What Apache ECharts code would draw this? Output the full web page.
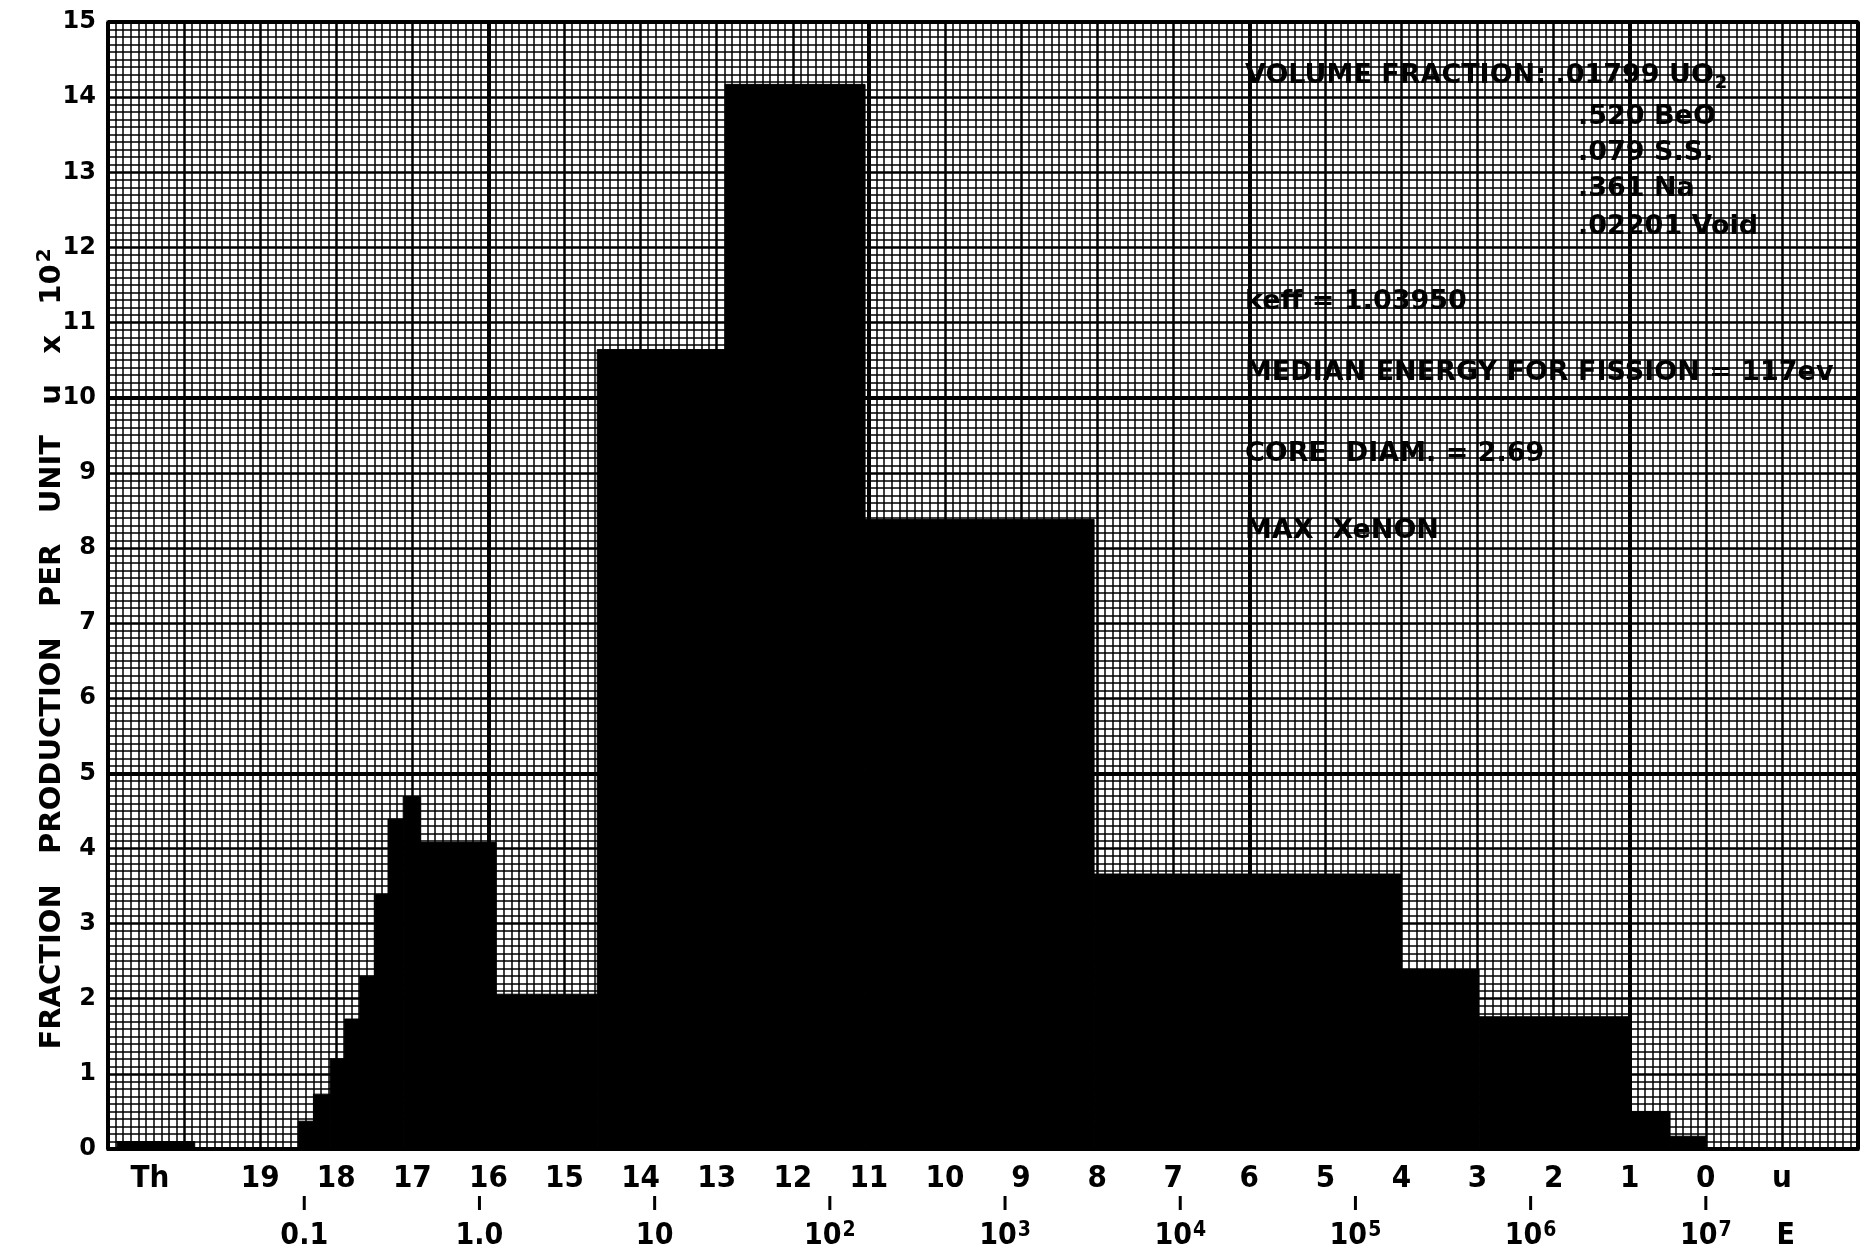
<!DOCTYPE html>
<html>
<head>
<meta charset="utf-8">
<script src="https://cdn.jsdelivr.net/npm/echarts@6/dist/echarts.min.js"></script>
<style>
html,body{margin:0;padding:0;background:#fff;}
#chart{width:1868px;height:1252px;}
</style>
</head>
<body>
<div id="chart"></div>
<script>
// ---- DATA (lethargy u decreases to the right; values = fraction per unit u x 10^2) ----
const binUHigh = [20.88, 18.50, 18.30, 18.08, 17.89, 17.69, 17.50, 17.32, 17.12, 16.89, 15.90, 14.57, 12.89, 11.05, 8.04, 4.01, 2.98, 1.02, 0.47];
const binULow  = [19.86, 18.30, 18.08, 17.89, 17.69, 17.50, 17.32, 17.12, 16.89, 15.90, 14.57, 12.89, 11.05, 8.04, 4.01, 2.98, 1.02, 0.47, 0.00];
const binValue = [0.10, 0.37, 0.73, 1.20, 1.73, 2.30, 3.39, 4.39, 4.69, 4.08, 2.06, 10.64, 14.17, 8.38, 3.66, 2.39, 1.76, 0.50, 0.17];

const lethargyTicks = [19, 18, 17, 16, 15, 14, 13, 12, 11, 10, 9, 8, 7, 6, 5, 4, 3, 2, 1, 0];
const thermalLabel = 'Th';
const thermalLabelU = 20.45;
const uAxisLabel = 'u';
const uAxisLabelU = -1;

const energyValues = [0.1, 1, 10, 1e2, 1e3, 1e4, 1e5, 1e6, 1e7];
const energyText   = ['0.1', '1.0', '10', '10{sup|2}', '10{sup|3}', '10{sup|4}', '10{sup|5}', '10{sup|6}', '10{sup|7}'];
const energyAxisLabel = 'E';
const energyAxisLabelU = -1.05;

const yTitle = '{t|FRACTION   PRODUCTION   PER   UNIT   u   x   10}{s|2}';

const notes = [
  '{a|VOLUME FRACTION: .01799 UO}{b|2}',
  '{a|.520 BeO}',
  '{a|.079 S.S.}',
  '{a|.361 Na}',
  '{a|.02201 Void}',
  '{a|keff = 1.03950}',
  '{a|MEDIAN ENERGY FOR FISSION = 117ev}',
  '{a|CORE  DIAM. = 2.69}',
  '{a|MAX  XeNON}'
];

// ---- derived ----
const bins = binValue.map((v, i) => [binUHigh[i], binULow[i], v]);
const energyU = energyValues.map(e => Math.log(1e7 / e));
const labelFont = "'Liberation Sans Narrow','DejaVu Sans Condensed','DejaVu Sans',sans-serif";
const noteFont = "'DejaVu Sans',sans-serif";

const chart = echarts.init(document.getElementById('chart'), null, {renderer: 'canvas'});

const gridLeft = 108, gridRight = 10, gridTop = 22, gridBottom = 101;

const notePos = [
  [1245, 76], [1578, 117], [1578, 153], [1578, 189], [1578, 227],
  [1245, 302], [1245, 373], [1245, 454], [1245, 531]
];

const graphics = notes.map((t, i) => ({
  type: 'text', x: notePos[i][0], y: notePos[i][1], z: 100,
  style: {
    text: t, verticalAlign: 'middle', align: 'left',
    rich: {
      a: {fontFamily: noteFont, fontWeight: 'bold', fontSize: 27, fill: '#000'},
      b: {fontFamily: noteFont, fontWeight: 'bold', fontSize: 18, fill: '#000', verticalAlign: 'bottom', padding: [14, 0, 0, 1]}
    }
  }
}));
graphics.push({
  type: 'text', x: 52, y: 649, rotation: Math.PI / 2, z: 100,
  style: {
    text: yTitle, align: 'center', verticalAlign: 'middle',
    rich: {
      t: {fontFamily: noteFont, fontWeight: 'bold', fontSize: 29, fill: '#000'},
      s: {fontFamily: noteFont, fontWeight: 'bold', fontSize: 20, fill: '#000', verticalAlign: 'top', padding: [0, 0, 14, 2]}
    }
  }
});

const option = {
  animation: false,
  backgroundColor: '#fff',
  grid: {left: gridLeft, right: gridRight, top: gridTop, bottom: gridBottom, show: true, borderColor: '#000', borderWidth: 3, backgroundColor: '#fff'},
  xAxis: [
    {
      type: 'value', min: -2, max: 21, interval: 1, inverse: true, position: 'bottom',
      axisLine: {show: true, onZero: false, lineStyle: {color: '#000', width: 3}},
      axisTick: {show: false},
      minorTick: {show: false, splitNumber: 10},
      minorSplitLine: {show: true, lineStyle: {color: '#000', width: 1.5}},
      splitLine: {show: true, lineStyle: {color: '#000', width: 2.5}},
      axisLabel: {
        show: true, margin: 14,
        customValues: [thermalLabelU].concat(lethargyTicks, [uAxisLabelU]),
        formatter: v => (Math.abs(v - thermalLabelU) < 1e-6 ? thermalLabel : (Math.abs(v - uAxisLabelU) < 1e-6 ? uAxisLabel : String(v))),
        color: '#000', fontFamily: labelFont, fontWeight: 'bold', fontSize: 31
      }
    },
    {
      // graph-paper heavy lines every 5 units (paper coordinate from left border)
      type: 'value', min: 0, max: 23, interval: 5, position: 'top',
      axisLine: {show: false}, axisTick: {show: false}, axisLabel: {show: false},
      splitLine: {show: true, lineStyle: {color: '#000', width: 4}}
    },
    {
      type: 'value', min: -2, max: 21, inverse: true, position: 'bottom', offset: 47,
      axisLine: {show: false},
      axisTick: {show: false},
      splitLine: {show: false},
      axisLabel: {
        show: true, margin: 0,
        customValues: energyU.concat([energyAxisLabelU]),
        formatter: v => {
          if (Math.abs(v - energyAxisLabelU) < 1e-6) return '{gap| }\n' + energyAxisLabel;
          const i = energyU.findIndex(u => Math.abs(u - v) < 1e-6);
          return i >= 0 ? '{tk| }\n' + energyText[i] : '';
        },
        color: '#000', fontFamily: labelFont, fontWeight: 'bold', fontSize: 30, lineHeight: 32,
        rich: {
          tk: {width: 3, height: 14, lineHeight: 24, backgroundColor: '#000', verticalAlign: 'top'},
          gap: {width: 3, height: 14, lineHeight: 24, verticalAlign: 'top'},
          sup: {fontFamily: labelFont, fontWeight: 'bold', fontSize: 21, color: '#000', verticalAlign: 'top', lineHeight: 32, padding: [0, 0, 0, 1]}
        }
      }
    }
  ],
  yAxis: [
    {
      type: 'value', min: 0, max: 15, interval: 1,
      axisLine: {show: true, onZero: false, lineStyle: {color: '#000', width: 3}},
      axisTick: {show: false},
      minorTick: {show: false, splitNumber: 10},
      minorSplitLine: {show: true, lineStyle: {color: '#000', width: 1.5}},
      splitLine: {show: true, lineStyle: {color: '#000', width: 2.5}},
      axisLabel: {margin: 12, color: '#000', fontFamily: "'DejaVu Sans',sans-serif", fontWeight: 'bold', fontSize: 24}
    },
    {
      type: 'value', min: 0, max: 15, interval: 5, position: 'right',
      axisLine: {show: false}, axisTick: {show: false}, axisLabel: {show: false},
      splitLine: {show: true, lineStyle: {color: '#000', width: 4}}
    }
  ],
  series: [
    {
      type: 'custom', xAxisIndex: 0, yAxisIndex: 0,
      encode: {x: [0, 1], y: 2},
      data: bins,
      renderItem: function (params, api) {
        const p1 = api.coord([api.value(0), api.value(2)]);
        const p2 = api.coord([api.value(1), 0]);
        return {
          type: 'rect',
          shape: {x: Math.min(p1[0], p2[0]), y: p1[1], width: Math.abs(p2[0] - p1[0]), height: p2[1] - p1[1]},
          style: {fill: '#000', stroke: '#000', lineWidth: 1}
        };
      },
      z: 5
    }
  ],
  graphic: graphics
};

chart.setOption(option);
</script>
</body>
</html>
